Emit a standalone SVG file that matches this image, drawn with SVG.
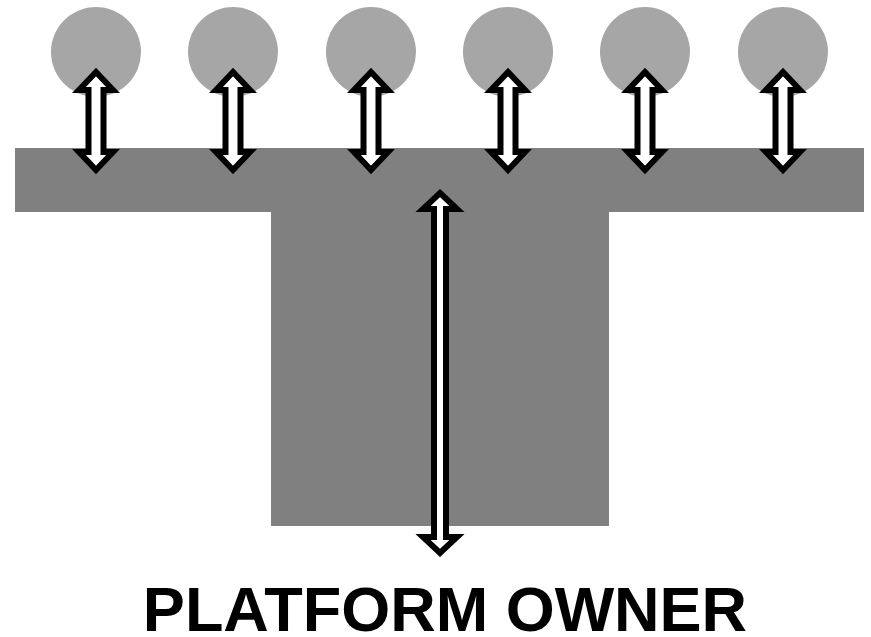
<svg xmlns="http://www.w3.org/2000/svg" width="871" height="637" viewBox="0 0 871 637">
<style>
.user{fill:#a6a6a6}
.plat{fill:#808080}
.arr{fill:#fff;stroke:#000;stroke-width:6;stroke-linejoin:miter;stroke-miterlimit:10}
.lbl{font-family:"Liberation Sans",Arial,sans-serif;font-weight:bold;font-size:63px;fill:#000;text-anchor:middle}
</style>
<defs>
<polygon id="small" points="0,72 17,90 7.5,90 7.5,152 17,152 0,170 -17,152 -7.5,152 -7.5,90 -17,90"/>
</defs>
<g id="platform">
<rect class="plat" x="15" y="148" width="849" height="64"/>
<rect class="plat" x="271" y="211" width="338" height="315"/>
</g>
<g id="user1"><circle class="user" cx="96" cy="52" r="45"/></g>
<g id="user2"><circle class="user" cx="233" cy="52" r="45"/></g>
<g id="user3"><circle class="user" cx="371" cy="52" r="45"/></g>
<g id="user4"><circle class="user" cx="508" cy="52" r="45"/></g>
<g id="user5"><circle class="user" cx="645" cy="52" r="45"/></g>
<g id="user6"><circle class="user" cx="783" cy="52" r="45"/></g>
<g id="connectors">
<use href="#small" class="arr" x="96"/>
<use href="#small" class="arr" x="233"/>
<use href="#small" class="arr" x="371"/>
<use href="#small" class="arr" x="508"/>
<use href="#small" class="arr" x="645"/>
<use href="#small" class="arr" x="783"/>
<polygon class="arr" points="440,193 457,209 446,209 446,537 457,537 440,553 423,537 434,537 434,209 423,209"/>
</g>
<g id="label"><text class="lbl" x="445" y="631">PLATFORM OWNER</text></g>
</svg>
